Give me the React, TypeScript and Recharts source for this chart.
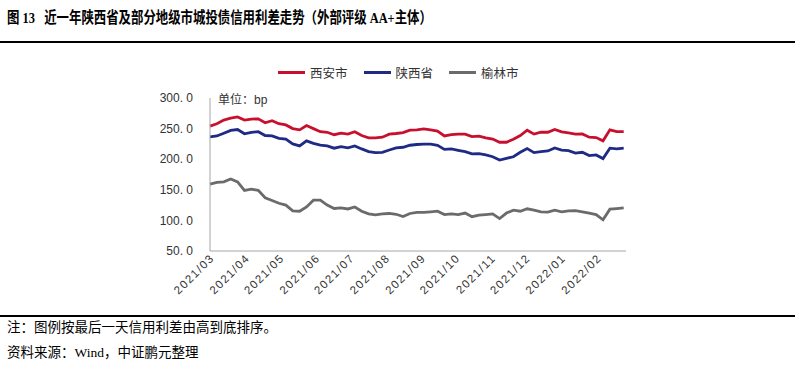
import { LineChart, Line, XAxis, YAxis } from "recharts";

// roughly one sample every 6 days, counted from 2021-03-01
const dayIndex = [
  0, 6, 12, 18, 24, 30, 36, 42, 48, 54, 60, 66, 72, 78, 84, 90, 96, 102, 108, 114,
  120, 126, 132, 138, 144, 150, 156, 162, 168, 174, 180, 186, 192, 198, 204, 210,
  216, 222, 228, 234, 240, 246, 252, 258, 264, 270, 276, 282, 288, 294, 300, 306,
  312, 318, 324, 330, 336, 342, 348, 354, 360,
];

const xian = [
  254, 258, 264, 267, 269, 264, 265.5, 266, 259.5, 263, 258, 256, 250, 248, 255, 250,
  245, 244, 240, 242.5, 241, 245, 238.7, 235, 235, 236, 241, 242, 243.6, 247.4, 248,
  249.6, 248, 246, 238, 240, 241, 241, 237, 237.6, 235, 233, 227.7, 227.7, 232.7,
  238.7, 247.4, 241, 244, 244, 248.5, 244.7, 243, 241, 241.4, 236, 235.4, 230, 248,
  245, 245,
];

const shaanxi = [
  236.5, 238, 242.5, 247, 248.5, 241.5, 244, 245, 238.7, 238, 234, 232.7, 225, 221.7,
  230, 226, 223, 221.7, 218, 220.6, 218.5, 221.7, 216.8, 212.4, 210.8, 211.3, 215,
  218.5, 219.5, 222.8, 224, 224.5, 224.5, 222.8, 216, 216.8, 214.6, 212.4, 208.6, 209,
  207, 204, 198.7, 201.5, 204, 211.3, 217.3, 210.8, 212.4, 213.5, 218.5, 215, 214, 210,
  211.3, 206, 207, 201, 218, 216.8, 218,
];

const yulin = [
  159.4, 162, 163, 167.6, 163, 149, 151, 149, 137, 132.6, 128, 125, 115.6, 115, 122,
  133, 133, 125, 119.5, 120.6, 118.7, 122, 115, 110.7, 109, 110.7, 111.3, 110, 106.3,
  111.3, 113.2, 113, 114, 115, 109.6, 110.7, 109.6, 112, 106, 108.5, 109.6, 110.7, 103,
  112, 116.7, 115, 119, 116.7, 114, 113.4, 116.7, 114, 115.6, 116, 114, 112, 109.6, 101,
  118.4, 119.4, 120.5,
];

const monthTicks = [0, 31, 61, 92, 122, 153, 184, 214, 245, 275, 306, 337];
const monthLabels = [
  "2021/03", "2021/04", "2021/05", "2021/06", "2021/07", "2021/08",
  "2021/09", "2021/10", "2021/11", "2021/12", "2022/01", "2022/02",
];
const yTicks = [50, 100, 150, 200, 250, 300];

const series = [
  { key: "xian", name: "西安市", color: "#C8102E" },
  { key: "shaanxi", name: "陕西省", color: "#1F2A85" },
  { key: "yulin", name: "榆林市", color: "#6B6B6B" },
];

const chartData = dayIndex.map((d, i) => ({
  day: d,
  xian: xian[i],
  shaanxi: shaanxi[i],
  yulin: yulin[i],
}));

const cjk = '"Liberation Serif", "Noto Sans CJK SC", serif';
const sans = '"Liberation Sans", "Noto Sans CJK SC", sans-serif';

function XTick({ x, y, payload }: any) {
  const idx = monthTicks.indexOf(payload.value);
  return (
    <g transform={`translate(${x},${y})`}>
      <text
        textAnchor="end"
        transform="rotate(-45)"
        dx={-2}
        dy={9}
        fontSize={11.5}
        letterSpacing={1.4}
        fill="#333"
        fontFamily={sans}
      >
        {monthLabels[idx]}
      </text>
    </g>
  );
}

export default function App() {
  return (
    <div
      style={{
        position: "absolute",
        left: 0,
        top: 0,
        width: 795,
        height: 369,
        background: "#fff",
        overflow: "hidden",
      }}
    >
      <div
        style={{
          position: "absolute",
          left: 7,
          top: 5,
          fontFamily: cjk,
          fontWeight: "bold",
          fontSize: 15.5,
          whiteSpace: "nowrap",
          transform: "scaleX(0.8)",
          transformOrigin: "left",
          color: "#000",
        }}
      >
        图 13&nbsp;&nbsp;&nbsp;近一年陕西省及部分地级市城投债信用利差走势（外部评级 AA+主体）
      </div>
      <div style={{ position: "absolute", left: 0, top: 41, width: 795, height: 1.5, background: "#000" }} />

      <div
        style={{
          position: "absolute",
          top: 63,
          left: 278,
          display: "flex",
          gap: 16,
          fontFamily: sans,
          fontSize: 12.5,
          color: "#333",
        }}
      >
        {series.map((s) => (
          <div key={s.key} style={{ display: "flex", alignItems: "center", gap: 5 }}>
            <div style={{ width: 27, height: 2.5, background: s.color }} />
            <span>{s.name}</span>
          </div>
        ))}
      </div>

      <div
        style={{
          position: "absolute",
          left: 218,
          top: 90,
          fontFamily: sans,
          fontSize: 12,
          color: "#333",
        }}
      >
        单位：bp
      </div>

      <div style={{ position: "absolute", left: 0, top: 0 }}>
        <LineChart
          width={795}
          height={369}
          data={chartData}
          margin={{ top: 98, right: 169, bottom: 68, left: 150 }}
        >
          <XAxis
            dataKey="day"
            type="number"
            domain={[0, 362]}
            ticks={monthTicks}
            interval={0}
            height={50}
            tickSize={0}
            tickMargin={0}
            stroke="#A6A6A6"
            tick={<XTick />}
          />
          <YAxis
            type="number"
            domain={[50, 300]}
            ticks={yTicks}
            width={60}
            tickLine={false}
            tickMargin={11}
            stroke="#A6A6A6"
            tick={{ fill: "#333", fontSize: 12, fontFamily: sans }}
            tickFormatter={(v: number) => v.toFixed(1).replace(".", ". ")}
          />
          {series.map((s) => (
            <Line
              key={s.key}
              dataKey={s.key}
              name={s.name}
              stroke={s.color}
              strokeWidth={2.8}
              dot={false}
              type="linear"
              isAnimationActive={false}
            />
          ))}
        </LineChart>
      </div>

      <div style={{ position: "absolute", left: 0, top: 315, width: 795, height: 1.5, background: "#000" }} />
      <div
        style={{
          position: "absolute",
          left: 7,
          top: 315,
          fontFamily: cjk,
          fontSize: 13.5,
          lineHeight: "25px",
          color: "#000",
          whiteSpace: "nowrap",
        }}
      >
        <div>注：图例按最后一天信用利差由高到底排序。</div>
        <div>资料来源：Wind，中证鹏元整理</div>
      </div>
    </div>
  );
}
